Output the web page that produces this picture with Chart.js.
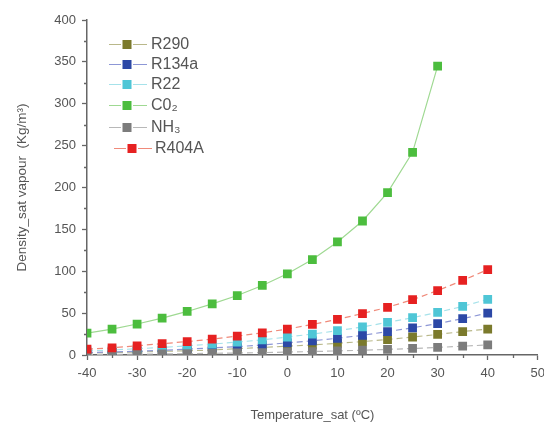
<!DOCTYPE html>
<html>
<head>
<meta charset="utf-8">
<script src="https://cdn.jsdelivr.net/npm/chart.js@4/dist/chart.umd.min.js"></script>
<style>
html,body{margin:0;padding:0;background:#fff;}
#wrap{width:544px;height:425px;}
</style>
</head>
<body>
<div id="wrap"><canvas id="c" width="544" height="425"></canvas></div>
<script>
const temps = [-40,-35,-30,-25,-20,-15,-10,-5,0,5,10,15,20,25,30,35,40];
const tempsCO2 = [-40,-35,-30,-25,-20,-15,-10,-5,0,5,10,15,20,25,30];
const r290  = [2.5,3,3.5,4.5,5,6,7.5,9,10.5,12,14,16,18.5,21.5,24.5,28,31];
const r134a = [3,3.5,4.5,5.5,7,8.5,10,12,14.5,17,20,23.5,28,32.5,37.5,43.5,50];
const r22   = [5,6,7.5,9,11,13,15.5,18,21.5,25,29,33.5,39,44.5,51,58,66.5];
const co2   = [26,31,37,44,52,61,71,83,97,114,135,160,194,242,345];
const nh3   = [0.7,0.8,1,1.3,1.6,2,2.4,2.9,3.5,4.1,4.9,5.7,6.7,7.8,9,10.5,12];
const r404a = [7,8.5,11,13.5,16,19,22.5,26.5,31,36.5,42.5,49.5,57,66,77,89,102];
const seriesNames = ['R290','R134a','R22','C0\u2082','NH\u2083','R404A'];
const xTicks = [-40,-30,-20,-10,0,10,20,30,40,50];
const yTicks = [0,50,100,150,200,250,300,350,400];

const markerColors = ['#7b7a2c','#2c48a6','#4fc6d6','#4cbd3e','#7c7c7c','#e62121'];
const lineColors   = ['#b9b88a','#8d97d6','#a6e2ea','#9fd992','#b8b8b8','#f08a7a'];
const dashes = [[6,4],[6,4],[6,4],[],[6,4],[6,4]];
const xsets = [temps,temps,temps,tempsCO2,temps,temps];
const ysets = [r290,r134a,r22,co2,nh3,r404a];

const datasets = ysets.map((ys,i)=>({
  label: seriesNames[i],
  data: ys.map((v,j)=>({x:xsets[i][j], y:v})),
  borderColor: lineColors[i],
  backgroundColor: markerColors[i],
  pointBackgroundColor: markerColors[i],
  pointBorderColor: markerColors[i],
  pointBorderWidth: 0,
  pointStyle: 'rect',
  pointRadius: 6.2,
  borderWidth: 1.2,
  borderDash: dashes[i],
  showLine: true,
  tension: 0,
  order: 6 - i
}));

const FONT = '"Liberation Sans", Arial, sans-serif';

const minorTicks = {
  id:'minorTicks',
  afterDraw(chart){
    const ctx = chart.ctx;
    const xs = chart.scales.x, ys = chart.scales.y;
    ctx.save();
    ctx.strokeStyle = '#666';
    ctx.lineWidth = 1.3;
    ctx.beginPath();
    for(let v=-35; v<50; v+=10){
      const px = Math.round(xs.getPixelForValue(v))+0.5;
      ctx.moveTo(px, ys.bottom); ctx.lineTo(px, ys.bottom+3);
    }
    for(let v=25; v<400; v+=50){
      const py = Math.round(ys.getPixelForValue(v))+0.5;
      ctx.moveTo(xs.left, py); ctx.lineTo(xs.left-3, py);
    }
    ctx.stroke();
    ctx.restore();
  }
};

const legendPlugin = {
  id:'insideLegend',
  afterDraw(chart){
    const ctx = chart.ctx;
    const rows = [44,64,84,105,127,148];
    ctx.save();
    ctx.font = '16px ' + FONT;
    ctx.textBaseline = 'middle';
    rows.forEach((y,i)=>{
      const off = (i===5) ? 5 : 0;
      const x0 = 109+off, x1 = 147+off, cx = 127+off;
      ctx.strokeStyle = lineColors[i];
      ctx.lineWidth = 1.2;
      ctx.setLineDash([]);
      ctx.beginPath();
      ctx.moveTo(x0,y+0.5); ctx.lineTo(cx-6,y+0.5);
      ctx.moveTo(cx+6,y+0.5); ctx.lineTo(x1,y+0.5);
      ctx.stroke();
      ctx.fillStyle = markerColors[i];
      ctx.fillRect(cx-4.5, y-4, 9, 9);
      ctx.fillStyle = '#555';
      ctx.fillText(seriesNames[i], 151+off+(i===5?-1:0), y+1);
    });
    ctx.restore();
  }
};

new Chart(document.getElementById('c'), {
  type:'scatter',
  data:{datasets},
  options:{
    responsive:false,
    animation:false,
    devicePixelRatio:1,
    layout:{padding:{top:20,right:4,bottom:0,left:0}},
    plugins:{legend:{display:false},tooltip:{enabled:false}},
    scales:{
      x:{
        type:'linear', min:-40, max:50,
        afterBuildTicks(s){ s.ticks = xTicks.map(v=>({value:v})); },
        afterFit(s){ s.height = 70; s.paddingLeft = 0; s.paddingRight = 0; },
        grid:{drawOnChartArea:false, tickLength:5, tickColor:'#666', tickWidth:1.3},
        border:{color:'#666', width:1.5},
        ticks:{color:'#555', font:{family:FONT,size:13}, padding:6, maxRotation:0, autoSkip:false},
        title:{display:true, text:'Temperature_sat (\u00baC)', color:'#555', font:{family:FONT,size:13}, padding:{top:0,bottom:2}}
      },
      y:{
        type:'linear', min:0, max:400,
        afterBuildTicks(s){ s.ticks = yTicks.map(v=>({value:v})); },
        afterFit(s){ s.width = 87; s.paddingTop = 0; s.paddingBottom = 0; },
        grid:{drawOnChartArea:false, tickLength:5, tickColor:'#666', tickWidth:1.3},
        border:{color:'#666', width:1.5},
        ticks:{color:'#555', font:{family:FONT,size:13}, padding:6, autoSkip:false},
        title:{display:true, text:'Density_sat vapour  (Kg/m\u00b3)', color:'#555', font:{family:FONT,size:13.5}, padding:{top:14,bottom:0}}
      }
    }
  },
  plugins:[minorTicks, legendPlugin]
});
</script>
</body>
</html>
